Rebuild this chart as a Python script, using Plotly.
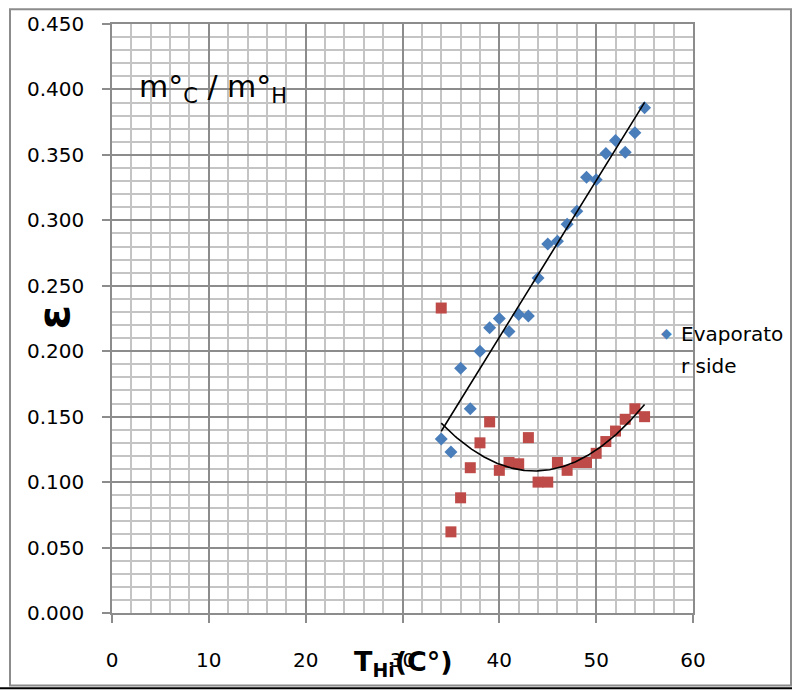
import numpy as np
import plotly.graph_objects as go

# ---------------- data ----------------
t_hi = [34, 35, 36, 37, 38, 39, 40, 41, 42, 43, 44,
        45, 46, 47, 48, 49, 50, 51, 52, 53, 54, 55]
eff_evaporator = [0.133, 0.123, 0.187, 0.156, 0.200, 0.218, 0.225, 0.215, 0.228, 0.227, 0.256,
                  0.282, 0.284, 0.297, 0.307, 0.333, 0.331, 0.351, 0.361, 0.352, 0.367, 0.386]
eff_condenser = [0.233, 0.062, 0.088, 0.111, 0.130, 0.146, 0.109, 0.115, 0.114, 0.134, 0.100,
                 0.100, 0.115, 0.109, 0.115, 0.115, 0.122, 0.131, 0.139, 0.148, 0.156, 0.150]
x_ticks = [0, 10, 20, 30, 40, 50, 60]
y_ticks = [0.0, 0.05, 0.10, 0.15, 0.20, 0.25, 0.30, 0.35, 0.40, 0.45]
y_tick_text = ["%.3f" % v for v in y_ticks]

BLUE = "#4A7EBB"
RED = "#BE4B48"
FONT = "DejaVu Sans"

# trendlines (least-squares, like the spreadsheet trendlines)
xs = np.linspace(min(t_hi), max(t_hi), 200)
lin = np.polyfit(t_hi, eff_evaporator, 1)
quad = np.polyfit(t_hi, eff_condenser, 2)

fig = go.Figure()
fig.add_trace(go.Scatter(x=t_hi, y=eff_evaporator, mode="markers", name="Evaporator side",
                         marker=dict(symbol="diamond", size=10, color=BLUE)))
fig.add_trace(go.Scatter(x=t_hi, y=eff_condenser, mode="markers", name="Condenser side",
                         marker=dict(symbol="square", size=11, color=RED)))
fig.add_trace(go.Scatter(x=xs, y=np.polyval(lin, xs), mode="lines", name="Linear (Evaporator side)",
                         line=dict(color="black", width=1.6)))
fig.add_trace(go.Scatter(x=xs, y=np.polyval(quad, xs), mode="lines", name="Poly. (Condenser side)",
                         line=dict(color="black", width=1.6)))

MAJOR = "#8C8C8C"
MINOR = "#C4C4C4"

fig.update_xaxes(range=[0, 60], tickvals=x_ticks, ticktext=[str(v) for v in x_ticks],
                 showgrid=True, gridcolor=MAJOR, gridwidth=1.5,
                 minor=dict(dtick=2, showgrid=True, gridcolor=MINOR, gridwidth=1.5, ticks=""),
                 showline=True, linecolor=MAJOR, linewidth=1.5, mirror=True,
                 ticks="outside", ticklen=8, tickcolor=MAJOR, tickwidth=1.5,
                 ticklabelstandoff=20, zeroline=False,
                 tickfont=dict(family=FONT, size=20, color="black"))
fig.update_yaxes(range=[0, 0.45], tickvals=y_ticks, ticktext=y_tick_text,
                 showgrid=True, gridcolor=MAJOR, gridwidth=1.5,
                 minor=dict(dtick=0.01, showgrid=True, gridcolor=MINOR, gridwidth=1.5, ticks=""),
                 showline=True, linecolor=MAJOR, linewidth=1.5, mirror=True,
                 ticks="outside", ticklen=8, tickcolor=MAJOR, tickwidth=1.5,
                 ticklabelstandoff=14, zeroline=False,
                 tickfont=dict(family=FONT, size=20, color="black"))

L, R, T, B = 112, 99, 19, 77
W, H = 792, 690
pw, ph = W - L - R, H - T - B


def px(xp):
    return (xp - L) / pw


def py(yp):
    return (H - B - yp) / ph


annotations = [
    dict(text="m°<sub>C</sub> / m°<sub>H</sub>", x=px(213), y=py(84), xanchor="center", yanchor="middle",
         font=dict(family=FONT, size=30, color="black")),
    dict(text="<b>ε</b>", x=px(54), y=py(315), xanchor="center", yanchor="middle", textangle=-90,
         font=dict(family=FONT, size=44, color="black")),
    dict(text="<b>T<sub>Hi</sub>(C°)</b>", x=px(403), y=py(664), xanchor="center", yanchor="middle",
         font=dict(family=FONT, size=27, color="black")),
    dict(text="◆", x=px(666), y=py(331), xanchor="center", yanchor="middle",
         font=dict(family=FONT, size=14, color=BLUE)),
    dict(text="Evaporato", x=px(679), y=py(332), xanchor="left", yanchor="middle",
         font=dict(family=FONT, size=20, color="black")),
    dict(text="r side", x=px(679), y=py(364), xanchor="left", yanchor="middle",
         font=dict(family=FONT, size=20, color="black")),
]
for a in annotations:
    a.update(xref="paper", yref="paper", showarrow=False)

shapes = [
    dict(type="rect", xref="paper", yref="paper", x0=px(10), x1=px(791), y0=py(686), y1=py(4),
         line=dict(color="#8C8C8C", width=2), layer="below"),
    dict(type="line", xref="paper", yref="paper", x0=px(0), x1=px(792), y0=py(689), y1=py(689),
         line=dict(color="black", width=2)),
]

fig.update_layout(width=W, height=H, margin=dict(l=L, r=R, t=T, b=B),
                  paper_bgcolor="white", plot_bgcolor="white", showlegend=False,
                  annotations=annotations, shapes=shapes,
                  font=dict(family=FONT, color="black"))

fig.write_html("out.html", config={"displayModeBar": False},
               post_script="document.body.style.margin='0';document.body.style.overflow='hidden';")
